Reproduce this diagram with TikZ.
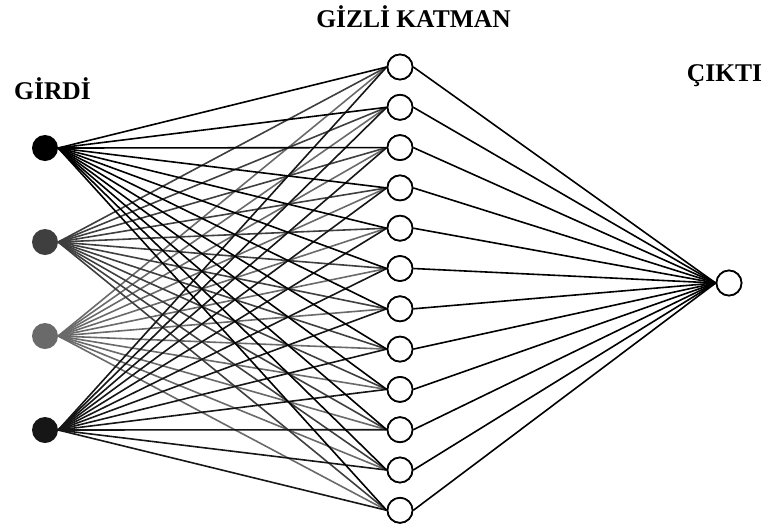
\documentclass[tikz,border=0pt]{standalone}
\usepackage{fontspec}
\setmainfont{Liberation Serif}
\begin{document}
\begin{tikzpicture}[x=1pt,y=-1pt,
  lbl/.style={font=\fontsize{25.5}{29}\selectfont\bfseries, inner sep=0pt, anchor=center},
  inp/.style={circle, minimum size=26pt, inner sep=0pt, fill=#1, draw=none},
  hid/.style={circle, minimum size=25pt, inner sep=0pt, draw=black, line width=1.7pt, fill=white},
  wire/.style={line width=1.6pt}]
\useasboundingbox (0,0) rectangle (765,531);
\definecolor{c1}{HTML}{000000}
\definecolor{c2}{HTML}{3F3F3F}
\definecolor{c3}{HTML}{6A6A6A}
\definecolor{c4}{HTML}{161616}
\node[lbl] (tin) at (52.5,89) {GİRDİ};
\node[lbl] (thid) at (413.5,17) {GİZLİ KATMAN};
\node[lbl] (tout) at (724.5,76) {ÇIKTI};
\node[inp=c1] (i1) at (45,148) {};
\node[inp=c2] (i2) at (45,242) {};
\node[inp=c3] (i3) at (45,336) {};
\node[inp=c4] (i4) at (45,430) {};
\foreach \k in {1,...,12} {
  \node[hid] (h\k) at (400,{67+(\k-1)*40.3}) {};
}
\node[hid] (o) at (729,283) {};
\foreach \i/\c in {3/c3,2/c2,4/c4,1/c1} {
  \foreach \k in {1,...,12} {
    \draw[wire,draw=\c] (i\i.east) -- (h\k.west);
  }
}
\foreach \k in {1,...,12} {
  \draw[wire] (h\k.east) -- (o.west);
}
\foreach \k in {1,...,12} {
  \node[hid] at (h\k) {};
}
\node[hid] at (o) {};
\end{tikzpicture}
\end{document}
